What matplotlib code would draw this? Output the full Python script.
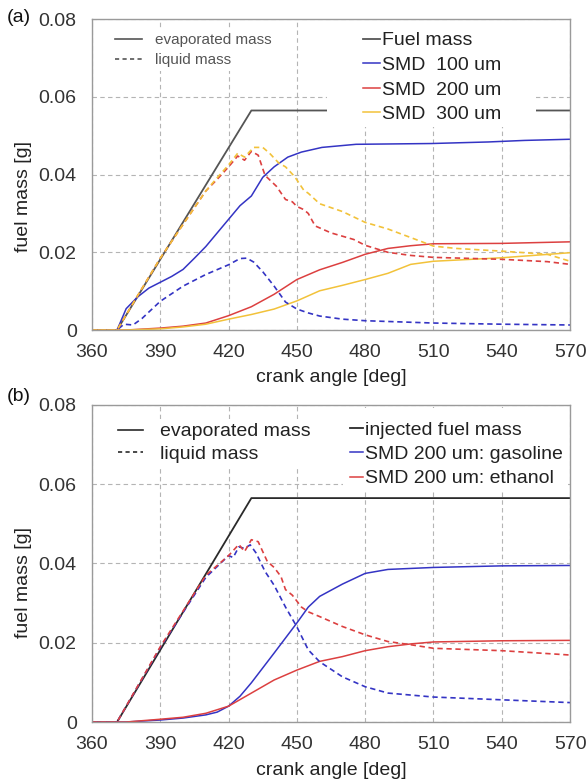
import matplotlib
matplotlib.use("Agg")
import matplotlib.pyplot as plt
from matplotlib.lines import Line2D
from matplotlib.patches import Rectangle

# Fuente parecida a Arial
plt.rcParams['font.family'] = ['Liberation Sans', 'DejaVu Sans']

# ---------------- Datos panel (a) ----------------
# masa inyectada (igual en ambos paneles)
ang_inj = [360, 371, 430, 570]
masa_inj = [0, 0, 0.0565, 0.0565]

# SMD 100 um
ang_100_ev = [360, 371, 375, 380, 385, 390, 395, 400, 405, 410, 415, 420, 425, 430,
              435, 440, 446, 452, 461, 476, 509, 534, 550, 570]
m_100_ev = [0, 0, 0.0055, 0.0085, 0.0108, 0.0123, 0.0138, 0.0156, 0.0185, 0.0215, 0.025,
            0.0285, 0.032, 0.0345, 0.0393, 0.042, 0.0445, 0.0458, 0.047, 0.0478, 0.048,
            0.0484, 0.0488, 0.0491]
ang_100_liq = [360, 371, 374, 378, 382, 390, 400, 410, 420, 425, 428, 431, 435, 440,
               445, 450, 455, 460, 470, 480, 510, 540, 570]
m_100_liq = [0, 0, 0.0015, 0.0013, 0.003, 0.0074, 0.0113, 0.0143, 0.0168, 0.0184, 0.0185,
             0.0175, 0.015, 0.0113, 0.0072, 0.0054, 0.0044, 0.0036, 0.0028, 0.0024,
             0.0018, 0.0015, 0.0013]

# SMD 200 um
ang_200_ev = [360, 375, 390, 400, 410, 420, 430, 440, 450, 460, 470, 480, 490, 500,
              510, 540, 570]
m_200_ev = [0, 0, 0.0005, 0.001, 0.0018, 0.0037, 0.006, 0.0092, 0.013, 0.0155, 0.0174,
            0.0195, 0.021, 0.0217, 0.0222, 0.0223, 0.0227]
ang_200_liq = [360, 371, 380, 390, 400, 410, 415, 420, 424, 427, 430, 433, 436, 441,
               445, 448, 450, 453, 455, 458, 465, 475, 480, 490, 500, 510, 540, 560, 570]
m_200_liq = [0, 0, 0.0088, 0.0185, 0.0272, 0.0358, 0.0388, 0.042, 0.0448, 0.0437, 0.046,
             0.045, 0.0398, 0.037, 0.0336, 0.033, 0.0318, 0.031, 0.03, 0.0268, 0.025,
             0.0233, 0.0218, 0.02, 0.0192, 0.0187, 0.0182, 0.0176, 0.0169]

# SMD 300 um
ang_300_ev = [360, 375, 390, 400, 410, 420, 430, 440, 450, 460, 470, 480, 490, 500,
              510, 540, 570]
m_300_ev = [0, 0, 0.0003, 0.0008, 0.0015, 0.0028, 0.004, 0.0054, 0.0075, 0.0101, 0.0115,
            0.013, 0.0146, 0.0169, 0.0177, 0.0186, 0.0199]
ang_300_liq = [360, 371, 380, 390, 400, 410, 415, 420, 424, 427, 431, 435, 438, 442,
               445, 449, 453, 455, 460, 470, 480, 490, 500, 510, 520, 540, 560, 570]
m_300_liq = [0, 0, 0.0088, 0.0185, 0.0272, 0.0358, 0.0392, 0.0425, 0.0455, 0.0445, 0.047,
             0.047, 0.0455, 0.043, 0.042, 0.0395, 0.036, 0.0352, 0.0325, 0.0305, 0.0277,
             0.026, 0.0238, 0.0216, 0.021, 0.0203, 0.0195, 0.0177]

# ---------------- Datos panel (b) ----------------
ang_gas_ev = [360, 375, 390, 400, 410, 415, 420, 425, 430, 440, 450, 455, 460, 470,
              480, 490, 510, 540, 570]
m_gas_ev = [0, 0, 0.0005, 0.001, 0.0018, 0.0025, 0.004, 0.0065, 0.0099, 0.0174, 0.025,
            0.029, 0.0317, 0.0348, 0.0375, 0.0385, 0.039, 0.0394, 0.0395]
ang_gas_liq = [360, 371, 390, 410, 420, 422, 424.5, 427, 429.5, 432, 436, 440, 445, 450,
               455, 460, 470, 480, 490, 510, 540, 570]
m_gas_liq = [0, 0, 0.0188, 0.0365, 0.042, 0.0415, 0.0442, 0.0438, 0.0447, 0.0427, 0.038,
             0.0345, 0.029, 0.024, 0.0182, 0.0152, 0.0114, 0.0089, 0.0073, 0.0063, 0.0056,
             0.0049]
ang_eth_ev = [360, 375, 390, 400, 410, 420, 430, 440, 450, 460, 470, 480, 490, 500,
              510, 540, 570]
m_eth_ev = [0, 0, 0.0007, 0.0012, 0.0022, 0.004, 0.0073, 0.0106, 0.0131, 0.0153, 0.0165,
            0.018, 0.019, 0.0197, 0.0202, 0.0205, 0.0206]
ang_eth_liq = [360, 371, 390, 410, 420, 424.5, 427, 430, 433, 437, 440, 443, 445, 448,
               452, 455, 460, 470, 480, 490, 500, 510, 540, 570]
m_eth_liq = [0, 0, 0.019, 0.037, 0.042, 0.0448, 0.043, 0.046, 0.0455, 0.0405, 0.039,
             0.0367, 0.0334, 0.032, 0.029, 0.0278, 0.0266, 0.0241, 0.022, 0.0203, 0.0195,
             0.0186, 0.018, 0.0169]

# ticks
xticks = [360, 390, 420, 450, 480, 510, 540, 570]
yticks = [0, 0.02, 0.04, 0.06, 0.08]
ytick_labels = ['0', '0.02', '0.04', '0.06', '0.08']

# colores
AZUL = '#3434c4'
ROJO = '#dc4040'
AMARILLO = '#f2c23a'
NEGRO = '#2a2a2a'
GUION = (0, (3.2, 2.2))


def formato(ax):
    # Ejes, rejilla y etiquetas comunes
    ax.set_xlim(360, 570)
    ax.set_ylim(0, 0.08)
    ax.set_xticks(xticks)
    ax.set_yticks(yticks)
    ax.set_yticklabels(ytick_labels)
    ax.grid(True, color='#b4b4b4', linestyle=(0, (4, 3)), linewidth=0.8)
    ax.set_axisbelow(True)
    ax.tick_params(length=0, labelsize=14, colors='#333333')
    ax.tick_params(axis='x', pad=10)
    ax.tick_params(axis='y', pad=11)
    for s in ax.spines.values():
        s.set_color('#9a9a9a')
        s.set_linewidth(1.0)
    ax.set_xlabel('crank angle [deg]', fontsize=14, color='#222222')
    ax.set_ylabel('fuel mass [g]', fontsize=14, color='#222222')


def caja_blanca(ax, x0, y0, x1, y1):
    # fondo blanco detras de la leyenda (tapa rejilla y linea de inyeccion)
    ax.add_patch(Rectangle((x0, y0), x1 - x0, y1 - y0, transform=ax.transAxes,
                           facecolor='white', edgecolor='none', zorder=3))


fig = plt.figure(figsize=(5.88, 7.83), dpi=100)
ax_a = fig.add_axes([0.1565, 0.5785, 0.813, 0.397])
ax_b = fig.add_axes([0.1565, 0.0779, 0.813, 0.4049])

# ---------------- Panel (a) ----------------
formato(ax_a)
ax_a.plot(ang_inj, masa_inj, color='#555555', lw=1.3, label='Fuel mass')
ax_a.plot(ang_100_ev, m_100_ev, color=AZUL, lw=1.1, label='SMD  100 um')
ax_a.plot(ang_200_ev, m_200_ev, color=ROJO, lw=1.1, label='SMD  200 um')
ax_a.plot(ang_300_ev, m_300_ev, color=AMARILLO, lw=1.1, label='SMD  300 um')
ax_a.plot(ang_100_liq, m_100_liq, color=AZUL, lw=1.2, ls=GUION)
ax_a.plot(ang_200_liq, m_200_liq, color=ROJO, lw=1.2, ls=GUION)
ax_a.plot(ang_300_liq, m_300_liq, color=AMARILLO, lw=1.2, ls=GUION)
ax_a.yaxis.set_label_coords(-0.125, 0.43)
ax_a.xaxis.set_label_coords(0.5, -0.125)
caja_blanca(ax_a, 0.492, 0.655, 0.929, 0.994)

estilo_a = [Line2D([], [], color='#555555', lw=1.2),
            Line2D([], [], color='#555555', lw=1.2, ls=(0, (2.5, 2)))]
leg1 = ax_a.legend(estilo_a, ['evaporated mass', 'liquid mass'], loc='upper left',
                   bbox_to_anchor=(0.0385, 0.969), borderaxespad=0, fontsize=11,
                   handlelength=1.77, handletextpad=0.85, labelspacing=0.36,
                   borderpad=0.3, frameon=True, fancybox=False, framealpha=1,
                   edgecolor='none', facecolor='white', labelcolor='#555555')
ax_a.add_artist(leg1)
ax_a.legend(loc='upper left', bbox_to_anchor=(0.559, 0.972), borderaxespad=0,
            fontsize=14, handlelength=0.87, handletextpad=0.1, labelspacing=0.36,
            borderpad=0.2, frameon=True, fancybox=False, framealpha=1,
            edgecolor='none', facecolor='white', labelcolor='#222222')

# ---------------- Panel (b) ----------------
formato(ax_b)
ax_b.plot(ang_inj, masa_inj, color=NEGRO, lw=1.3, label='injected fuel mass')
ax_b.plot(ang_gas_ev, m_gas_ev, color=AZUL, lw=1.1, label='SMD 200 um: gasoline')
ax_b.plot(ang_eth_ev, m_eth_ev, color=ROJO, lw=1.1, label='SMD 200 um: ethanol')
ax_b.plot(ang_gas_liq, m_gas_liq, color=AZUL, lw=1.2, ls=GUION)
ax_b.plot(ang_eth_liq, m_eth_liq, color=ROJO, lw=1.2, ls=GUION)
ax_b.yaxis.set_label_coords(-0.125, 0.44)
ax_b.xaxis.set_label_coords(0.5, -0.125)
caja_blanca(ax_b, 0.525, 0.732, 0.995, 0.99)

estilo_b = [Line2D([], [], color=NEGRO, lw=1.2),
            Line2D([], [], color=NEGRO, lw=1.2, ls=(0, (2.5, 2)))]
leg2 = ax_b.legend(estilo_b, ['evaporated mass', 'liquid mass'], loc='upper left',
                   bbox_to_anchor=(0.046, 0.956), borderaxespad=0, fontsize=14,
                   handlelength=1.29, handletextpad=0.87, labelspacing=0.25,
                   borderpad=0.2, frameon=True, fancybox=False, framealpha=1,
                   edgecolor='none', facecolor='white', labelcolor='#222222')
ax_b.add_artist(leg2)
ax_b.legend(loc='upper left', bbox_to_anchor=(0.532, 0.962), borderaxespad=0,
            fontsize=14, handlelength=0.67, handletextpad=0.1, labelspacing=0.35,
            borderpad=0.2, frameon=True, fancybox=False, framealpha=1,
            edgecolor='none', facecolor='white', labelcolor='#222222')

# etiquetas de panel
fig.text(0.012, 1 - 17 / 783, '(a)', fontsize=14, va='center', color='#111111')
fig.text(0.012, 1 - 396 / 783, '(b)', fontsize=14, va='center', color='#111111')

fig.savefig('out.png', dpi=100)
